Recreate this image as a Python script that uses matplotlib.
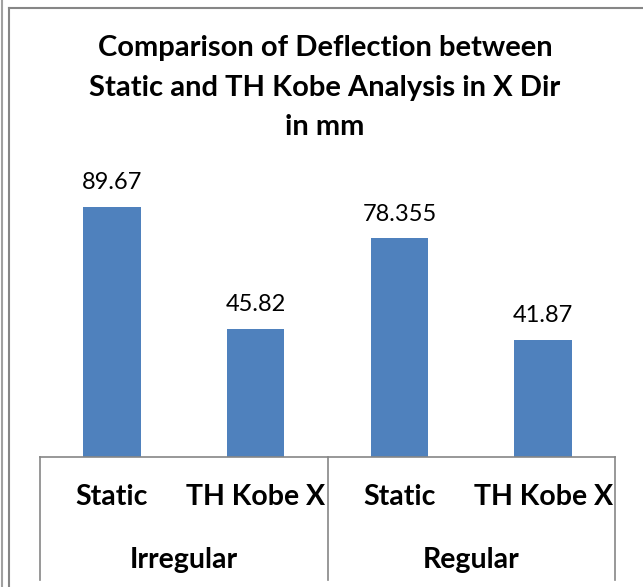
import matplotlib.pyplot as plt
from matplotlib.lines import Line2D

groups = ["Irregular", "Regular"]
methods = ["Static", "TH Kobe X"]
values = [89.67, 45.82, 78.355, 41.87]
value_labels = ["89.67", "45.82", "78.355", "41.87"]

plt.rcParams['font.family'] = ['Lato', 'DejaVu Sans']

fig = plt.figure(figsize=(6.43, 5.87), dpi=100)
W, H = 643, 587

# axes placed in pixel coordinates of the reference
left, right, base, top = 40, 615, 457, 178
ax = fig.add_axes([left / W, 1 - base / H, (right - left) / W, (base - top) / H])

n = len(groups) * len(methods)
xs = list(range(n))
bars = ax.bar(xs, values, width=0.4, color="#4F81BD")
ax.set_xlim(-0.5, n - 0.5)
ax.set_ylim(0, 100)
for s in ax.spines.values():
    s.set_visible(False)
ax.set_xticks([])
ax.set_yticks([])

for x, v, lab in zip(xs, values, value_labels):
    ax.annotate(lab, (x, v), xytext=(0, 17.5), textcoords="offset points",
                ha="center", va="center", fontsize=17)

line_kw = dict(color="#868686", lw=1.2)
# category axis line
fig.add_artist(Line2D([left / W, right / W], [1 - base / H] * 2, **line_kw))
for px in (left, (left + right) / 2, right):
    fig.add_artist(Line2D([px / W] * 2, [1 - base / H, 1 - 580 / H], **line_kw))

# multi-level labels
for i, g in enumerate(groups):
    for j, m in enumerate(methods):
        k = i * len(methods) + j
        cx = left + (k + 0.5) * (right - left) / n
        fig.text(cx / W, 1 - 497 / H, m, ha="center", va="center",
                 fontsize=20.5, fontweight="bold")
    gx = left + (i + 0.5) * (right - left) / len(groups)
    fig.text(gx / W, 1 - 560 / H, g, ha="center", va="center",
             fontsize=20.5, fontweight="bold")

# title
title_lines = ["Comparison of Deflection between",
               "Static and TH Kobe Analysis in X Dir",
               "in mm"]
for t, py in zip(title_lines, (48, 88, 127)):
    fig.text(325 / W, 1 - py / H, t, ha="center", va="center",
             fontsize=21, fontweight="bold")

# chart border lines
fig.add_artist(Line2D([2 / W] * 2, [0, 1], color="#A0A0A0", lw=1.5))
fig.add_artist(Line2D([9 / W] * 2, [0, 1 - 8 / H], color="#868686", lw=1.5))
fig.add_artist(Line2D([9 / W, 1], [1 - 8 / H] * 2, color="#868686", lw=1.5))

fig.savefig("out.png", dpi=100)
